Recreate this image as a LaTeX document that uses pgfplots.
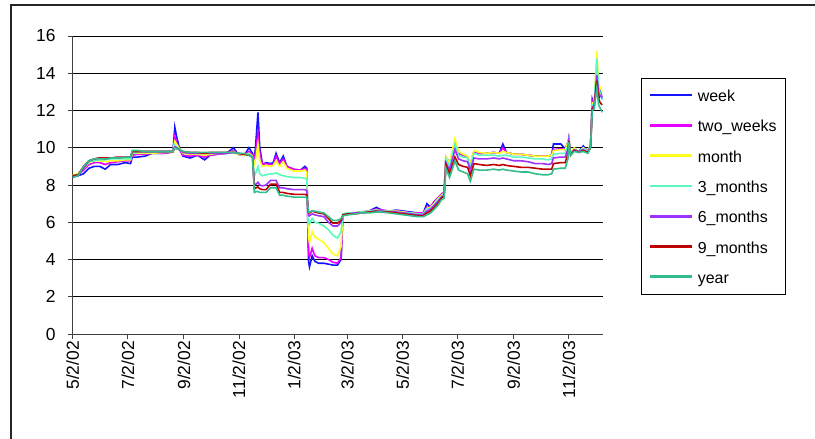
\documentclass[border=0pt]{standalone}
\usepackage{pgfplots}
\pgfplotsset{compat=1.18}
\usepackage{pgfplotstable}
\usepackage{fontspec}
\setmainfont{Liberation Sans}

\definecolor{cweek}{RGB}{20,20,255}
\definecolor{ctwo}{RGB}{230,0,255}
\definecolor{cmonth}{RGB}{255,255,30}
\definecolor{cthree}{RGB}{90,250,190}
\definecolor{csix}{RGB}{160,50,255}
\definecolor{cnine}{RGB}{190,0,0}
\definecolor{cyear}{RGB}{50,190,140}

% day = days since 5/2/02
\pgfplotstableread{
day week two month m3 m6 m9 year
0 8.45 8.5 8.55 8.5 8.45 8.5 8.4
6 8.5 8.55 8.6 8.55 8.5 8.55 8.5
12 8.6 8.8 8.9 8.9 8.9 9.0 9.0
18 8.9 9.1 9.2 9.25 9.3 9.3 9.3
24 9.0 9.2 9.3 9.3 9.4 9.4 9.4
30 9.0 9.2 9.3 9.35 9.45 9.45 9.4
36 8.85 9.1 9.25 9.35 9.4 9.45 9.4
42 9.1 9.2 9.3 9.4 9.45 9.45 9.45
50 9.1 9.25 9.3 9.4 9.45 9.5 9.45
58 9.2 9.3 9.35 9.4 9.5 9.5 9.5
64 9.15 9.3 9.35 9.4 9.5 9.5 9.5
66 9.5 9.6 9.7 9.7 9.8 9.8 9.85
72 9.5 9.65 9.7 9.75 9.8 9.8 9.85
80 9.55 9.65 9.7 9.75 9.8 9.8 9.8
88 9.7 9.7 9.7 9.75 9.8 9.8 9.8
100 9.7 9.7 9.75 9.75 9.8 9.8 9.8
108 9.75 9.75 9.75 9.8 9.8 9.8 9.8
111 9.8 9.8 9.8 9.8 9.8 9.8 9.8
113 11.1 10.6 10.35 10.15 10.05 10.0 10.0
115 10.6 10.3 10.2 10.05 10.0 9.95 9.95
118 10.0 9.9 9.95 9.95 9.9 9.9 9.9
122 9.55 9.6 9.7 9.75 9.75 9.8 9.8
130 9.45 9.55 9.65 9.7 9.7 9.75 9.75
138 9.6 9.6 9.65 9.7 9.7 9.75 9.75
146 9.35 9.5 9.6 9.7 9.7 9.7 9.75
152 9.6 9.6 9.65 9.7 9.7 9.75 9.75
160 9.65 9.65 9.7 9.7 9.7 9.75 9.75
170 9.7 9.7 9.7 9.7 9.7 9.75 9.75
178 10.0 9.85 9.8 9.75 9.75 9.75 9.75
183 9.65 9.65 9.65 9.7 9.7 9.7 9.7
190 9.6 9.6 9.6 9.65 9.65 9.65 9.7
195 10.0 9.8 9.7 9.65 9.6 9.6 9.6
199 9.7 9.6 9.55 9.5 9.5 9.5 9.5
201 9.3 9.3 9.1 8.5 8.0 7.8 7.6
203 10.5 10.0 9.5 8.7 8.05 7.85 7.65
205 11.9 10.8 10.2 9.0 8.15 7.9 7.65
207 10.0 9.7 9.3 8.6 8.0 7.8 7.6
210 9.1 9.1 9.0 8.5 7.95 7.75 7.6
214 9.2 9.15 9.05 8.55 8.0 7.75 7.6
219 9.15 9.1 9.0 8.6 8.25 8.05 7.85
222 9.2 9.1 9.05 8.6 8.25 8.05 7.85
225 9.7 9.55 9.3 8.65 8.25 8.05 7.85
229 9.2 9.15 9.0 8.55 7.85 7.6 7.45
233 9.55 9.4 9.25 8.5 7.85 7.6 7.45
237 9.0 9.0 8.9 8.45 7.8 7.55 7.4
245 8.8 8.85 8.75 8.4 7.75 7.5 7.35
252 8.8 8.8 8.75 8.4 7.75 7.5 7.35
257 9.0 8.9 8.8 8.35 7.75 7.5 7.35
259 8.9 8.8 8.7 8.35 7.7 7.45 7.35
261 3.9 4.4 5.2 6.0 6.35 6.5 6.55
262 3.6 4.1 4.9 5.9 6.35 6.5 6.55
265 4.2 4.6 5.5 6.2 6.45 6.6 6.6
268 3.9 4.2 5.2 6.0 6.4 6.55 6.6
272 3.8 4.1 5.1 5.95 6.35 6.5 6.55
278 3.8 4.1 4.9 5.8 6.3 6.45 6.5
283 3.75 4.0 4.6 5.6 6.0 6.2 6.3
288 3.7 3.85 4.3 5.3 5.8 5.95 6.1
293 3.7 3.8 4.2 5.15 5.8 5.95 6.1
297 4.0 4.1 4.7 5.5 6.0 6.1 6.2
299 6.4 6.4 6.45 6.45 6.4 6.4 6.35
305 6.45 6.45 6.5 6.5 6.45 6.45 6.4
312 6.5 6.5 6.5 6.5 6.5 6.45 6.45
320 6.55 6.55 6.55 6.55 6.5 6.5 6.5
328 6.6 6.6 6.6 6.6 6.55 6.55 6.5
336 6.8 6.7 6.65 6.65 6.6 6.6 6.55
342 6.65 6.65 6.6 6.6 6.6 6.55 6.55
350 6.6 6.6 6.6 6.6 6.55 6.55 6.5
358 6.65 6.6 6.6 6.55 6.55 6.5 6.45
366 6.6 6.55 6.55 6.5 6.5 6.45 6.4
374 6.55 6.5 6.5 6.5 6.45 6.4 6.35
382 6.5 6.5 6.45 6.45 6.4 6.35 6.3
388 6.5 6.5 6.45 6.45 6.4 6.35 6.3
392 7.0 6.8 6.75 6.7 6.6 6.5 6.4
396 6.8 6.85 6.8 6.75 6.7 6.6 6.5
400 7.1 7.1 7.0 6.95 6.9 6.8 6.7
404 7.3 7.3 7.25 7.2 7.1 7.0 6.9
408 7.5 7.5 7.45 7.4 7.35 7.3 7.2
411 7.6 7.6 7.55 7.5 7.45 7.4 7.3
413 9.5 9.4 9.5 9.4 9.2 9.1 8.9
417 9.2 9.1 9.2 9.0 8.8 8.6 8.4
423 10.1 10.2 10.5 10.2 9.9 9.5 9.3
427 9.7 9.7 9.8 9.6 9.4 9.1 8.8
432 9.6 9.6 9.65 9.5 9.3 9.0 8.7
437 9.5 9.5 9.55 9.45 9.25 8.95 8.6
440 9.1 9.1 9.15 9.0 8.8 8.5 8.2
444 9.8 9.8 9.85 9.7 9.45 9.15 8.85
450 9.7 9.7 9.75 9.6 9.4 9.1 8.8
458 9.7 9.7 9.7 9.6 9.4 9.05 8.8
466 9.75 9.75 9.75 9.6 9.45 9.1 8.85
472 9.7 9.7 9.7 9.55 9.4 9.05 8.8
476 10.2 10.0 9.8 9.6 9.45 9.1 8.85
480 9.75 9.75 9.75 9.6 9.4 9.05 8.8
488 9.65 9.65 9.65 9.5 9.3 9.0 8.75
496 9.65 9.65 9.65 9.5 9.3 8.95 8.7
504 9.6 9.6 9.6 9.45 9.25 8.95 8.7
512 9.55 9.55 9.55 9.4 9.15 8.9 8.6
520 9.55 9.55 9.55 9.4 9.15 8.85 8.55
526 9.55 9.55 9.55 9.35 9.1 8.85 8.55
530 9.6 9.6 9.6 9.4 9.15 8.85 8.6
532 10.2 9.9 9.85 9.65 9.45 9.15 8.85
540 10.2 9.95 9.9 9.7 9.5 9.2 8.9
545 9.95 9.9 9.9 9.7 9.5 9.2 8.9
548 10.3 10.2 10.3 10.1 9.9 9.65 9.4
549 10.5 10.5 10.5 10.45 10.4 10.35 10.3
551 9.7 9.7 9.7 9.7 9.65 9.6 9.6
555 9.9 9.9 10.0 9.9 9.9 9.85 9.8
560 9.8 9.8 9.8 9.8 9.8 9.75 9.75
565 10.1 10.0 10.0 9.95 9.9 9.85 9.8
570 9.8 9.8 9.8 9.8 9.75 9.75 9.7
573 10.1 10.1 10.2 10.1 10.1 10.0 10.0
575 12.6 12.5 12.4 12.3 12.2 12.1 12.0
577 12.3 12.2 12.3 12.3 12.2 12.2 12.1
580 13.3 14.1 15.2 14.8 13.9 13.6 13.2
582 12.6 13.0 13.4 13.2 12.9 12.6 12.3
584 13.0 12.8 13.2 12.9 12.8 12.4 12.1
586 12.6 12.8 13.0 12.6 12.7 12.3 11.9
}\rates

\begin{document}
\begin{tikzpicture}
\useasboundingbox (-72.7bp,-105bp) rectangle (742.3bp,334bp);
% outer chart frame (only top and left edges are visible)
\draw[line width=1.2bp, black!85] (-61.7bp,-106bp) -- (-61.7bp,329bp) -- (743bp,329bp);
\begin{axis}[
  at={(0,0)}, anchor=south west,
  width=530bp, height=298bp, scale only axis,
  xmin=0, xmax=586.5, ymin=0, ymax=16,
  axis lines=left,
  axis line style={-, line width=0.8bp, black!75},
  ymajorgrids, grid style={line width=0.8bp, black},
  tick align=outside, major tick length=5bp,
  tick style={line width=0.8bp, black!75},
  xtick={0,61,123,184,245,304,365,426,488,549},
  xticklabels={5/2/02,7/2/02,9/2/02,11/2/02,1/2/03,3/2/03,5/2/03,7/2/03,9/2/03,11/2/03},
  ytick={0,2,...,16},
  /pgf/number format/assume math mode=true,
  every tick label/.append style={font=\fontsize{17.5}{20}\selectfont},
  xticklabel style={rotate=90, anchor=east, inner sep=2bp},
  yticklabel style={inner sep=2bp, xshift=-10bp},
  legend cell align=left,
  legend image code/.code={\fill[#1] (0bp,-0.1bp) rectangle (40bp,1.1bp);},
  legend style={at={(1.0717,0.859)}, anchor=north west,
    font=\fontsize{16}{19}\selectfont, draw=black, line width=1bp,
    inner xsep=9bp, inner ysep=8bp, row sep=12.3bp,
    nodes={inner sep=0pt, text height=15bp, text depth=3bp},
    /tikz/every odd column/.append style={column sep=6bp}},
]
\addplot[color=cweek, line width=1.6bp, no markers] table[x=day, y=week] {\rates};
\addlegendentry{week}
\addplot[color=ctwo, line width=1.6bp, no markers] table[x=day, y=two] {\rates};
\addlegendentry{two\_weeks}
\addplot[color=cmonth, line width=1.6bp, no markers] table[x=day, y=month] {\rates};
\addlegendentry{month}
\addplot[color=cthree, line width=1.6bp, no markers] table[x=day, y=m3] {\rates};
\addlegendentry{3\_months}
\addplot[color=csix, line width=1.6bp, no markers] table[x=day, y=m6] {\rates};
\addlegendentry{6\_months}
\addplot[color=cnine, line width=1.6bp, no markers] table[x=day, y=m9] {\rates};
\addlegendentry{9\_months}
\addplot[color=cyear, line width=1.6bp, no markers] table[x=day, y=year] {\rates};
\addlegendentry{year}
\end{axis}
\end{tikzpicture}
\end{document}
